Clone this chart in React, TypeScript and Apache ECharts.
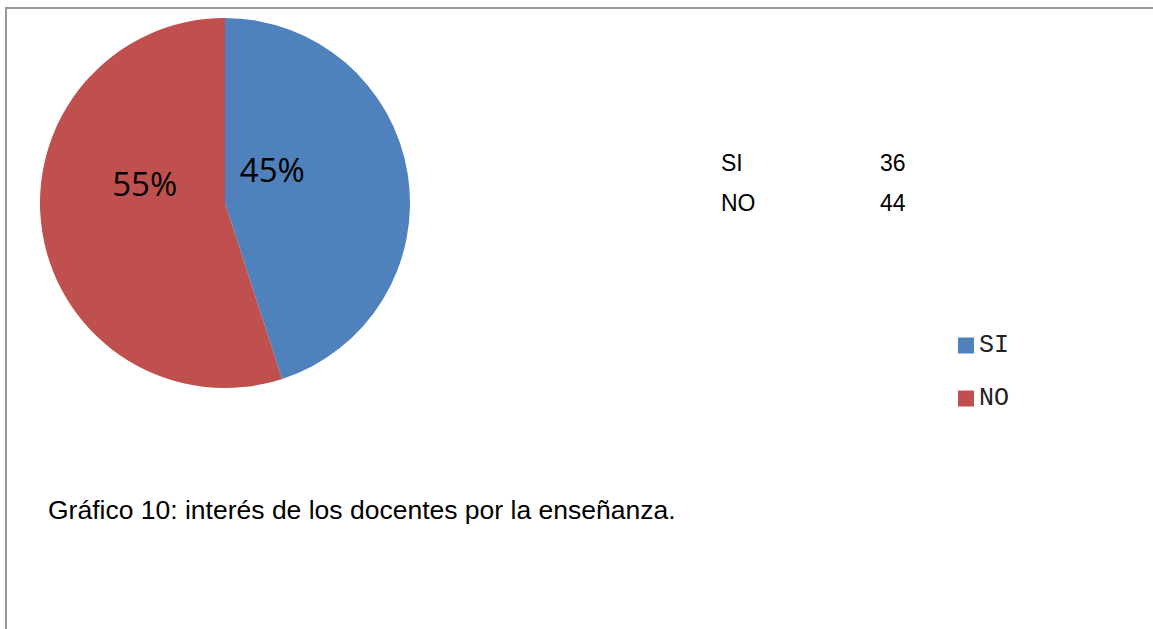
import React, { useEffect, useRef } from "react";
import * as echarts from "echarts";

const categories = ["SI", "NO"];
const values = [36, 44];
const colors = ["#4F81BD", "#C0504D"];
const caption = "Gráfico 10: interés de los docentes por la enseñanza.";
// label offsets (dx, dy) from default inside position
const labelShift = [
  [-47, -19],
  [14, -34],
];

export default function App() {
  const ref = useRef<HTMLDivElement>(null);
  useEffect(() => {
    document.body.style.margin = "0";
    const chart = echarts.init(ref.current!, null, { renderer: "svg" });
    const font = "23px 'Liberation Sans', Arial, sans-serif";
    const tableTexts: any[] = [];
    categories.forEach((c, i) => {
      tableTexts.push({
        type: "text",
        x: 721,
        y: 163 + i * 39.5,
        style: { text: c, font, fill: "#000", verticalAlign: "middle" },
      });
      tableTexts.push({
        type: "text",
        x: 880,
        y: 163 + i * 39.5,
        style: { text: String(values[i]), font, fill: "#000", verticalAlign: "middle" },
      });
    });
    chart.setOption({
      animation: false,
      backgroundColor: "#fff",
      color: colors,
      legend: {
        orient: "vertical",
        left: 953,
        top: 328,
        icon: "rect",
        itemWidth: 16,
        itemHeight: 16,
        itemGap: 28,
        textStyle: {
          fontFamily: "'Liberation Mono', 'Courier New', monospace",
          fontSize: 25,
          color: "#222",
        },
        data: categories,
      },
      graphic: [
        {
          type: "line",
          shape: { x1: 5, y1: 8, x2: 1153, y2: 8 },
          style: { stroke: "#999", lineWidth: 2 },
        },
        {
          type: "line",
          shape: { x1: 6, y1: 8, x2: 6, y2: 629 },
          style: { stroke: "#999", lineWidth: 2 },
        },
        ...tableTexts,
        {
          type: "text",
          x: 48,
          y: 510,
          style: {
            text: caption,
            font: "26.5px 'Liberation Sans', Arial, sans-serif",
            fill: "#000",
            verticalAlign: "middle",
          },
        },
      ],
      series: [
        {
          type: "pie",
          center: [225, 203],
          radius: 185,
          startAngle: 90,
          clockwise: true,
          percentPrecision: 0,
          label: {
            show: true,
            position: "inside",
            formatter: "{d}%",
            fontSize: 33,
            fontFamily: "'Open Sans', 'Noto Sans', sans-serif",
            color: "#000",
          },
          labelLine: { show: false },
          labelLayout: (p: any) => ({ dx: labelShift[p.dataIndex][0], dy: labelShift[p.dataIndex][1] }),
          emphasis: { disabled: true },
          itemStyle: { borderWidth: 0 },
          data: categories.map((c, i) => ({ name: c, value: values[i] })),
        },
      ],
    });
    return () => chart.dispose();
  }, []);
  return <div ref={ref} style={{ width: 1153, height: 629 }} />;
}
